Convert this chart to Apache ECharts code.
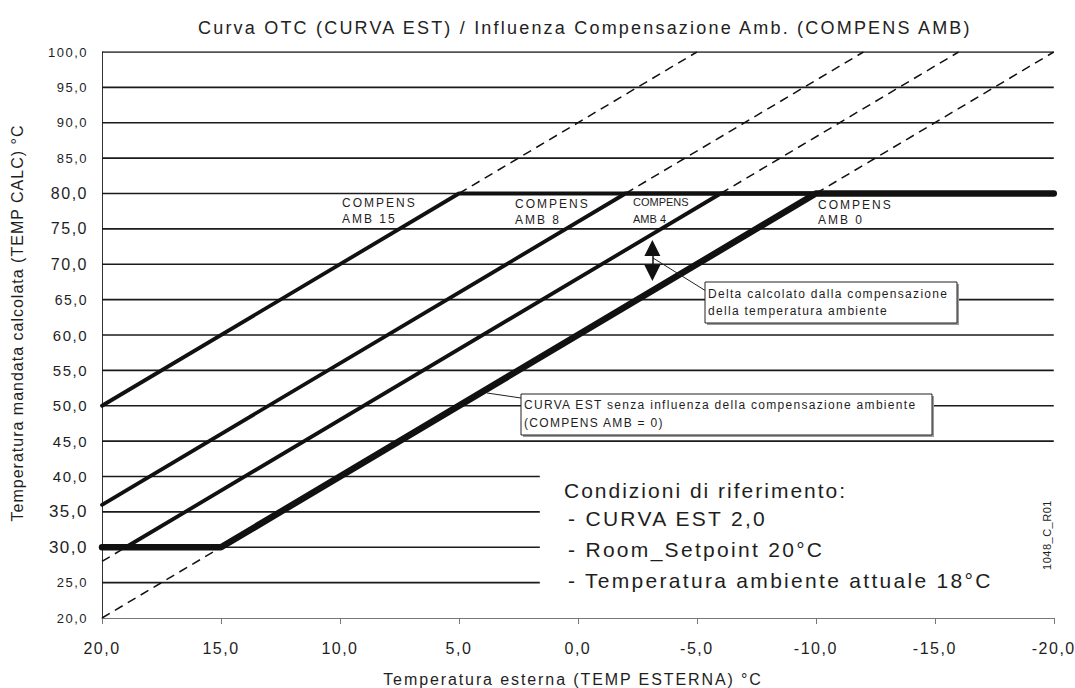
<!DOCTYPE html>
<html>
<head>
<meta charset="utf-8">
<script src="https://cdn.jsdelivr.net/npm/echarts@6/dist/echarts.min.js"></script>
<style>
  html, body { margin: 0; padding: 0; background: #fff; }
  #chart { width: 1075px; height: 688px; }
</style>
</head>
<body>
<div id="chart"></div>
<script>
// --- data ---
const xMin = -20, xMax = 20;
const yMin = 20, yMax = 100;

// solid curves [outside temp, flow temp]
const amb0Line = [[20, 30], [15, 30], [-10, 80], [-20, 80]];
const amb4Line = [[19, 30], [-6, 80], [-20, 80]];
const amb8Line = [[20, 36], [-2, 80], [-20, 80]];
const amb15Line = [[20, 50], [5, 80], [-20, 80]];

// dashed extensions
const amb0DashLow = [[20, 20], [15, 30]];
const amb0DashHigh = [[-10, 80], [-20, 100]];
const amb4DashLow = [[20, 28], [19, 30]];
const amb4DashHigh = [[-6, 80], [-16, 100]];
const amb8DashHigh = [[-2, 80], [-12, 100]];
const amb15DashHigh = [[5, 80], [-5, 100]];

// horizontal guide lines, the lowest ones stop before the text block
const gridLevels = [25, 30, 35, 40, 45, 50, 55, 60, 65, 70, 75, 80, 85, 90, 95, 100];
const shortGridLevels = [25, 30, 35, 40];
const shortGridEnd = 1.6;

// double arrow (delta from room compensation)
const deltaArrow = [[-3.13, 72.3], [-3.13, 68.76]];

const TITLE = 'Curva OTC (CURVA EST) / Influenza Compensazione Amb. (COMPENS AMB)';
const FONT = '"Liberation Sans", Arial, sans-serif';

const fmt = v => v.toFixed(1).replace('.', ',').replace(/^-0,0$/, '0,0');

// label sizes vary a bit in the original
const yLabelSize = { 100: 13, 95: 13, 90: 13, 85: 13, 80: 16, 75: 16, 70: 16, 65: 14, 60: 15, 55: 15, 50: 15, 45: 15, 40: 15, 35: 17, 30: 17, 25: 13, 20: 13 };

const series = [];

gridLevels.forEach(level => {
  const end = shortGridLevels.includes(level) ? shortGridEnd : xMin;
  series.push({
    type: 'line', silent: true, symbol: 'none', z: 1,
    lineStyle: { color: '#1a1a1a', width: 1.6 },
    data: [[xMax, level], [end, level]]
  });
});

const dashed = [amb0DashLow, amb0DashHigh, amb4DashLow, amb4DashHigh, amb8DashHigh, amb15DashHigh];
dashed.forEach(d => {
  series.push({
    type: 'line', silent: true, symbol: 'none', z: 2,
    lineStyle: { color: '#111', width: 1.5, type: [9, 6] },
    data: d
  });
});

[amb15Line, amb8Line].forEach(d => {
  series.push({
    type: 'line', silent: true, symbol: 'none', z: 3,
    lineStyle: { color: '#111', width: 3.8, cap: 'round', join: 'round' },
    data: d
  });
});

series.push({
  name: 'AMB 4',
  type: 'line', silent: true, symbol: 'none', z: 3,
  lineStyle: { color: '#111', width: 3.8, cap: 'round', join: 'round' },
  data: amb4Line,
  markLine: {
    silent: true,
    symbol: ['triangle', 'triangle'],
    symbolSize: [16, 16],
    label: { show: false },
    lineStyle: { color: '#111', width: 1.5, type: 'solid' },
    data: [[{ coord: deltaArrow[0] }, { coord: deltaArrow[1] }]]
  }
});

series.push({
  name: 'AMB 0',
  type: 'line', silent: true, symbol: 'none', z: 4,
  lineStyle: { color: '#111', width: 6.5, cap: 'round', join: 'round' },
  data: amb0Line
});

// --- annotations ---
function txt(x, y, text, size, extra) {
  return Object.assign({
    type: 'text', x: x, y: y, z: 101, silent: true,
    style: {
      text: text, fill: '#1e1e1e', fontSize: size, fontFamily: FONT,
      textAlign: 'left', align: 'left',
      textVerticalAlign: 'middle', verticalAlign: 'middle'
    }
  }, extra || {});
}
function ctxt(x, y, text, size, rot) {
  return {
    type: 'text', x: x, y: y, z: 101, silent: true, rotation: rot || 0,
    style: {
      text: text, fill: '#1e1e1e', fontSize: size, fontFamily: FONT,
      textAlign: 'center', align: 'center',
      textVerticalAlign: 'middle', verticalAlign: 'middle'
    }
  };
}
function box(x, y, w, h) {
  return [
    { type: 'rect', z: 98, silent: true, shape: { x: x + 2, y: y + 2, width: w, height: h }, style: { fill: '#9a9a9a' } },
    { type: 'rect', z: 99, silent: true, shape: { x: x, y: y, width: w, height: h }, style: { fill: '#fff', stroke: '#222', lineWidth: 1 } }
  ];
}
function seg(x1, y1, x2, y2) {
  return { type: 'line', z: 99, silent: true, shape: { x1, y1, x2, y2 }, style: { stroke: '#222', lineWidth: 1 } };
}

const graphic = [
  txt(342, 203, 'COMPENS', 12), txt(342, 219, 'AMB 15', 12),
  txt(515, 204, 'COMPENS', 12), txt(515, 220, 'AMB 8', 12),
  txt(633, 202, 'COMPENS', 11), txt(633, 219, 'AMB 4', 11),
  txt(818, 205, 'COMPENS', 12), txt(818, 220, 'AMB 0', 12),

  seg(653, 258, 706, 291),
  ...box(705, 282, 252, 41),
  txt(708, 294, 'Delta calcolato dalla compensazione', 12),
  txt(708, 311, 'della temperatura ambiente', 12),

  seg(487, 393, 521, 398),
  ...box(521, 394, 411, 41),
  txt(524, 405, 'CURVA EST senza influenza della compensazione ambiente', 12),
  txt(524, 423, '(COMPENS AMB = 0)', 12),

  txt(564, 490, 'Condizioni di riferimento:', 21),
  txt(568, 518, '- CURVA EST 2,0', 21),
  txt(568, 549, '- Room_Setpoint 20°C', 21),
  txt(568, 580, '- Temperatura ambiente attuale 18°C', 21),

  ctxt(1047, 535, '1048_C_R01', 11, Math.PI / 2),
  ctxt(17, 323, 'Temperatura mandata calcolata (TEMP CALC) °C', 16, Math.PI / 2),
  ctxt(573, 679, 'Temperatura esterna (TEMP ESTERNA) °C', 16)
];

const rich = {};
[13, 14, 15, 16, 17].forEach(s => { rich['s' + s] = { fontSize: s, color: '#1e1e1e', fontFamily: FONT }; });

const option = {
  animation: false,
  backgroundColor: '#fff',
  textStyle: { fontFamily: FONT },
  title: {
    text: TITLE, left: 193, top: 14,
    textStyle: { fontSize: 18, fontWeight: 'normal', color: '#222', fontFamily: FONT }
  },
  grid: { left: 102, right: 20, top: 52, bottom: 70 },
  xAxis: {
    type: 'value', min: xMin, max: xMax, interval: 5, inverse: true,
    axisLine: { show: true, onZero: false, lineStyle: { color: '#777', width: 1 } },
    axisTick: { show: true, length: 6, lineStyle: { color: '#777' } },
    axisLabel: { margin: 22, fontSize: 16, color: '#1e1e1e', fontFamily: FONT, formatter: v => fmt(v) },
    splitLine: { show: false }
  },
  yAxis: {
    type: 'value', min: yMin, max: yMax, interval: 5,
    axisLine: { show: true, onZero: false, lineStyle: { color: '#333', width: 1 } },
    axisTick: { show: false },
    axisLabel: {
      margin: 14,
      formatter: v => '{s' + (yLabelSize[v] || 15) + '|' + fmt(v) + '}',
      rich: rich
    },
    splitLine: { show: false }
  },
  series: series,
  graphic: graphic
};

const chart = echarts.init(document.getElementById('chart'), null, { renderer: 'svg' });
chart.setOption(option);

// the original uses letter-spaced type; SVG text lets us add it back
function spacingFor(t, fs) {
  if (t.indexOf('Curva OTC') === 0) return 2.2;
  if (t === 'COMPENS' || t.indexOf('AMB ') === 0) return fs < 11.5 ? 0 : 2;
  if (t.indexOf('Condizioni') === 0) return 2;
  if (t.indexOf('- ') === 0) return 2.3;
  if (t === '1048_C_R01') return 0.5;
  if (t.indexOf('Temperatura mandata') === 0) return 1;
  if (t.indexOf('Temperatura esterna') === 0) return 1.9;
  if (/^-?\d+,\d$/.test(t)) return 1.5;
  return 1.3;
}
function applySpacing() {
  document.querySelectorAll('#chart svg text').forEach(el => {
    const fs = parseFloat(getComputedStyle(el).fontSize) || 12;
    el.setAttribute('letter-spacing', spacingFor(el.textContent, fs) + 'px');
  });
}
chart.on('finished', applySpacing);
setTimeout(applySpacing, 50);
</script>
</body>
</html>
